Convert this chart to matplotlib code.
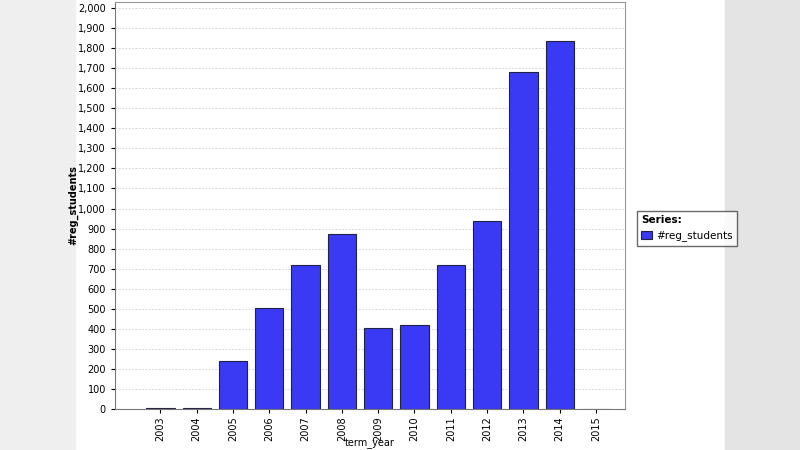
# bar chart of registered students per term year

import matplotlib.pyplot as plt
from matplotlib.patches import Rectangle
from matplotlib.ticker import FuncFormatter, MultipleLocator

years = ["2003", "2004", "2005", "2006", "2007", "2008", "2009",
         "2010", "2011", "2012", "2013", "2014", "2015"]
students = [5, 6, 240, 505, 720, 875, 405, 420, 720, 940, 1680, 1835, 2]

fig = plt.figure(figsize=(8, 4.5), dpi=100)
fig.patches.append(Rectangle((0, 0), 75/800, 1, transform=fig.transFigure,
                             color="#efefef", zorder=-1))
fig.patches.append(Rectangle((725/800, 0), 75/800, 1, transform=fig.transFigure,
                             color="#e4e4e4", zorder=-1))

ax = fig.add_axes([115/800, 41/450, 510/800, 407/450])
x = range(len(years))
ax.bar(x, students, width=0.78, color="#3a3af5", edgecolor="#222244", linewidth=0.8, zorder=2)
ax.set_xlim(-1.25, 12.8)
ax.set_ylim(0, 2030)
ax.set_xticks(list(x))
ax.set_xticklabels(years, rotation=90, fontsize=7)
ax.yaxis.set_major_locator(MultipleLocator(100))
ax.yaxis.set_major_formatter(FuncFormatter(lambda v, p: f"{int(v):,}"))
ax.tick_params(axis="y", labelsize=7, length=3)
ax.tick_params(axis="x", length=3, pad=2)
ax.grid(axis="y", color="#cccccc", linestyle=(0, (2, 2)), linewidth=0.6, zorder=0)
for s in ax.spines.values():
  s.set_color("#999999")
ax.spines["left"].set_color("#777777")
ax.spines["bottom"].set_color("#777777")
ax.set_xlabel("term_year", fontsize=7)
ax.xaxis.set_label_coords(0.5, -0.072)
ax.set_ylabel("#reg_students", fontsize=7, fontweight="bold")
ax.yaxis.set_label_coords(-0.072, 0.5)

leg = fig.legend(["#reg_students"], loc="upper left", bbox_to_anchor=(632/800, 1-206/450),
                 title="Series:", fontsize=7.5, title_fontproperties={"weight": "bold", "size": 7.5},
                 fancybox=False, edgecolor="#444444", handlelength=1.0, handletextpad=0.4,
                 borderpad=0.4)
leg._legend_box.align = "left"
leg.get_frame().set_linewidth(1.0)

fig.savefig("out.png")
